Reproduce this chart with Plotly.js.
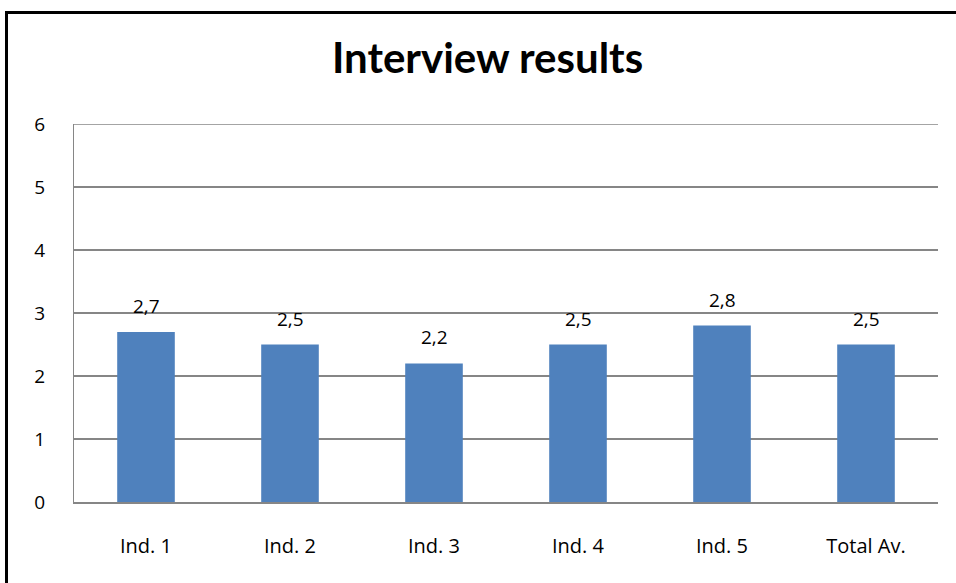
<!DOCTYPE html>
<html>
<head>
<meta charset="utf-8">
<script src="https://cdn.plot.ly/plotly-3.0.1.min.js"></script>
<style>
  html, body { margin: 0; padding: 0; background: #fff; }
  #wrap { position: relative; width: 956px; height: 583px; }
  #chart { width: 956px; height: 583px; }
  #frame { position: absolute; left: 5px; top: 11px; right: 0; bottom: 0;
           border-left: 3px solid #000; border-top: 3px solid #000; pointer-events: none; }
</style>
</head>
<body>
<div id="wrap"><div id="chart"></div><div id="frame"></div></div>
<script>
const categories = ["Ind. 1", "Ind. 2", "Ind. 3", "Ind. 4", "Ind. 5", "Total Av."];
const values = [2.7, 2.5, 2.2, 2.5, 2.8, 2.5];
const yTicks = [0, 1, 2, 3, 4, 5, 6];

const fmt = v => v.toFixed(1).replace(".", ",");
const TFONT = "Lato, 'Open Sans', sans-serif";
const FONT = "'Open Sans', sans-serif";

const trace = {
  type: "bar",
  x: categories,
  y: values,
  marker: { color: "#4F81BD" },
  hoverinfo: "skip"
};

const annotations = categories.map((c, i) => ({
  x: c, y: values[i], xref: "x", yref: "y",
  text: fmt(values[i]), showarrow: false,
  yanchor: "bottom", yshift: 11,
  font: { family: FONT, size: 19, color: "#000" }
}));

const yMax = yTicks[yTicks.length - 1];

const layout = {
  width: 956, height: 583,
  margin: { l: 74, r: 18, t: 124, b: 81, pad: 0 },
  paper_bgcolor: "#fff", plot_bgcolor: "#fff",
  bargap: 0.6,
  showlegend: false,
  title: {
    text: "<b>Interview results</b>",
    font: { family: TFONT, size: 42, color: "#000" },
    x: 0.51, xref: "container", xanchor: "center",
    y: 1 - 58 / 583, yref: "container", yanchor: "middle"
  },
  xaxis: {
    type: "category",
    showgrid: false,
    showline: true, linecolor: "#868686", linewidth: 1.5,
    ticks: "", ticklabelstandoff: 25,
    tickfont: { family: FONT, size: 20, color: "#000" },
    fixedrange: true
  },
  yaxis: {
    range: [0, yMax],
    tickvals: yTicks,
    ticktext: yTicks.map(String),
    showgrid: true, gridcolor: "#868686", gridwidth: 1.5,
    showline: true, linecolor: "#868686", linewidth: 1,
    zeroline: false,
    ticks: "", ticklabelstandoff: 24,
    tickfont: { family: FONT, size: 19, color: "#000" },
    fixedrange: true
  },
  shapes: [{
    type: "line", xref: "paper", yref: "y",
    x0: 0, x1: 1, y0: yMax, y1: yMax,
    line: { color: "#868686", width: 1.5 }
  }],
  annotations: annotations
};

Plotly.newPlot("chart", [trace], layout, { displayModeBar: false, staticPlot: true });
</script>
</body>
</html>
